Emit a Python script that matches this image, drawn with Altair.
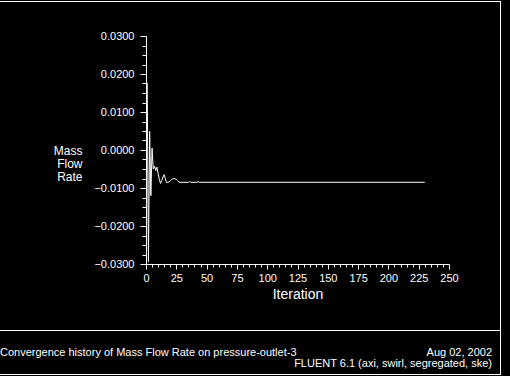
import altair as alt
import pandas as pd

# ---- data ----
iterations = [1, 2, 3, 4, 5, 6, 7, 8, 9, 10, 11, 12, 13, 14, 15, 16, 17, 18, 19, 20,
              21, 22, 23, 24, 25, 26, 27, 28, 35, 36, 37, 42, 43, 44, 230]
mass_flow = [0.0177, -0.0294, 0.0049, -0.0120, 0.0005, -0.0050, -0.0043, -0.0054,
             -0.0045, -0.0062, -0.0078, -0.0088, -0.0080, -0.0071, -0.0065, -0.0076,
             -0.0086, -0.0085, -0.0084, -0.0081, -0.0078, -0.0076, -0.0075, -0.0076,
             -0.0077, -0.0080, -0.0084, -0.0085, -0.0085, -0.0083, -0.0085, -0.0085,
             -0.0083, -0.0085, -0.0085]

x_ticks = [0, 5, 10, 15, 20, 25, 30, 35, 40, 45, 50, 55, 60, 65, 70, 75, 80, 85, 90, 95,
           100, 105, 110, 115, 120, 125, 130, 135, 140, 145, 150, 155, 160, 165, 170, 175,
           180, 185, 190, 195, 200, 205, 210, 215, 220, 225, 230, 235, 240, 245, 250]
y_ticks = [-0.03, -0.0275, -0.025, -0.0225, -0.02, -0.0175, -0.015, -0.0125, -0.01,
           -0.0075, -0.005, -0.0025, 0.0, 0.0025, 0.005, 0.0075, 0.01, 0.0125, 0.015,
           0.0175, 0.02, 0.0225, 0.025, 0.0275, 0.03]

footer_left = "Convergence history of Mass Flow Rate on pressure-outlet-3"
footer_date = "Aug 02, 2002"
footer_solver = "FLUENT 6.1 (axi, swirl, segregated, ske)"

df = pd.DataFrame({"Iteration": iterations, "Mass Flow Rate": mass_flow})
one = pd.DataFrame({"k": [0]})

FONT = "Liberation Sans"
W, H = 303, 228
PL, PT = 146, 36

line = alt.Chart(df).mark_line(color="white", strokeWidth=1).encode(
    x=alt.X("Iteration:Q",
            scale=alt.Scale(domain=[0, 250], nice=False, zero=False),
            axis=alt.Axis(
                values=x_ticks,
                tickSize={"condition": {"test": "datum.value % 25 === 0", "value": 5}, "value": 3},
                labelExpr="datum.value % 25 === 0 ? datum.label : ''",
                labelOverlap=False, labelFlush=False, labelBound=False,
                labelPadding=3, labelFontSize=11,
                title="Iteration", titleFontSize=14, titleFontWeight="normal",
                titleBaseline="alphabetic", titleY=34,
                grid=False)),
    y=alt.Y("Mass Flow Rate:Q",
            scale=alt.Scale(domain=[-0.03, 0.03], nice=False, zero=False),
            axis=alt.Axis(
                values=y_ticks,
                tickSize={"condition": {"test": "abs(datum.value*100 - round(datum.value*100)) < 1e-6", "value": 6}, "value": 4},
                labelExpr="abs(datum.value*100 - round(datum.value*100)) < 1e-6 ? format(datum.value, '.4f') : ''",
                labelOverlap=False, labelFlush=False, labelBound=False,
                labelPadding=6, labelFontSize=11,
                title=["Mass", "Flow", "Rate"], titleAngle=0, titleAlign="right",
                titleBaseline="alphabetic", titleX=-64, titleY=118,
                titleLineHeight=13, titleFontSize=12, titleFontWeight="normal",
                grid=False)),
)

def hrule(y, x0=-PL, x1=354.5):
    return alt.Chart(one).mark_rule(color="white", strokeWidth=1).encode(
        x=alt.value(x0), x2=alt.value(x1), y=alt.value(y))

def vrule(x, y0, y1):
    return alt.Chart(one).mark_rule(color="white", strokeWidth=1).encode(
        x=alt.value(x), y=alt.value(y0), y2=alt.value(y1))

frame = [
    hrule(1.5 - PT),
    hrule(330.5 - PT),
    hrule(374.5 - PT),
    vrule(500.5 - PL, 1 - PT, 375 - PT),
]

def txt(s, x, y, align):
    return alt.Chart(one).mark_text(color="white", font=FONT, fontSize=11,
                                    align=align, baseline="alphabetic").encode(
        x=alt.value(x), y=alt.value(y), text=alt.value(s))

texts = [
    txt(footer_left, 0 - PL, 356 - PT, "left"),
    txt(footer_date, 492 - PL, 356 - PT, "right"),
    txt(footer_solver, 492 - PL, 367 - PT, "right"),
]

chart = alt.layer(line, *frame, *texts).properties(
    width=W, height=H,
    autosize="none",
    padding={"left": PL, "top": PT, "right": 510 - PL - W, "bottom": 376 - PT - H},
).configure(background="black", font=FONT).configure_view(stroke=None).configure_axis(
    domainColor="white", tickColor="white", labelColor="white", titleColor="white",
    labelFont=FONT, titleFont=FONT, domainWidth=1, tickWidth=1,
)

chart.save("out.html", embed_options={"renderer": "svg", "actions": False})
